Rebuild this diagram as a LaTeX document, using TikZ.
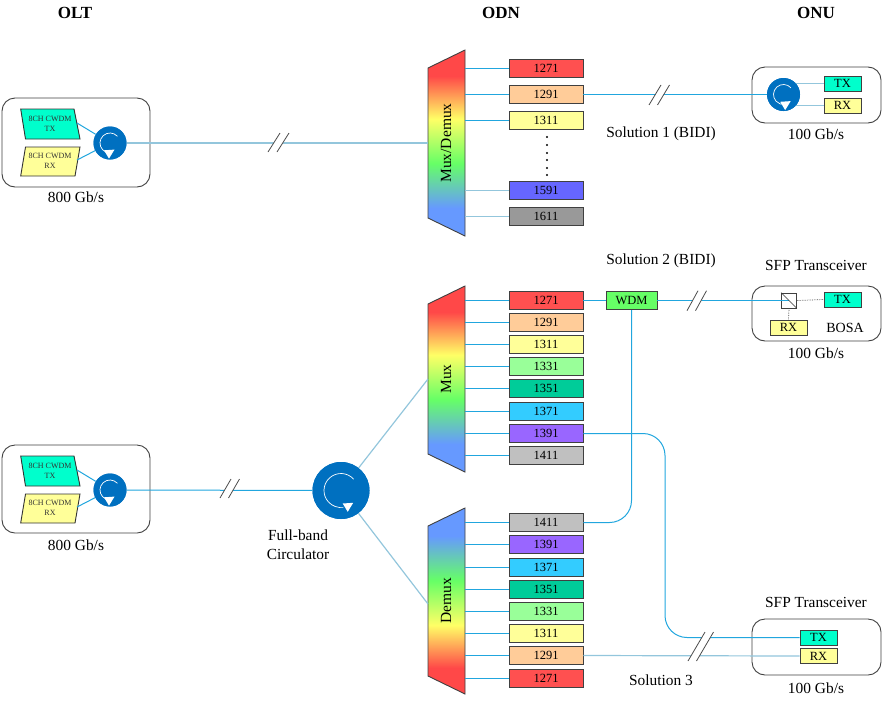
\documentclass[tikz,border=0pt]{standalone}
\usepackage{fontspec}
\setmainfont{Liberation Serif}
\definecolor{fibre}{HTML}{21A6DE}
\definecolor{palefibre}{HTML}{93C6DC}
\definecolor{circblue}{HTML}{0070C0}
\definecolor{edgegrey}{HTML}{404040}
\definecolor{cred}{HTML}{FF5050}
\definecolor{corange}{HTML}{FFCC99}
\definecolor{cyellow}{HTML}{FFFF99}
\definecolor{cgreen}{HTML}{99FF99}
\definecolor{cteal}{HTML}{00CC99}
\definecolor{ccyan}{HTML}{33CCFF}
\definecolor{cpurple}{HTML}{9966FF}
\definecolor{cgrey}{HTML}{C0C0C0}
\definecolor{cviolet}{HTML}{6666FF}
\definecolor{cdgrey}{HTML}{999999}
\definecolor{caqua}{HTML}{00FFCC}
\definecolor{cwdm}{HTML}{66FF66}
\definecolor{gtop}{HTML}{FF4848}
\definecolor{gyel}{HTML}{FFFF66}
\definecolor{ggrn}{HTML}{66FF66}
\definecolor{gblu}{HTML}{6699FF}
\pgfdeclareverticalshading{rainbowdown}{100bp}{color(0bp)=(gblu);color(25bp)=(gblu);color(32.5bp)=(gblu);color(44.5bp)=(ggrn);color(56.5bp)=(gyel);color(68bp)=(gtop);color(75bp)=(gtop);color(100bp)=(gtop)}
\pgfdeclareverticalshading{rainbowup}{100bp}{color(0bp)=(gtop);color(25bp)=(gtop);color(32bp)=(gtop);color(43.5bp)=(gyel);color(55.5bp)=(ggrn);color(67.5bp)=(gblu);color(75bp)=(gblu);color(100bp)=(gblu)}
\tikzset{
  every node/.style={font=\fontsize{15.4}{19}\selectfont,inner sep=0pt,text=black},
  wl/.style={draw=edgegrey,line width=0.9pt,minimum width=74pt,minimum height=18.5pt,font=\fontsize{12.5}{14}\selectfont},
  smallbox/.style={draw=edgegrey,line width=0.9pt,minimum width=37pt,minimum height=15pt,font=\fontsize{12.5}{14}\selectfont},
  chbox/.style={draw=black!80,line width=0.9pt},
  fibreline/.style={draw=fibre,line width=1pt},
  paleline/.style={draw=palefibre,line width=1.2pt},
  slash/.style={draw=black!70,line width=0.8pt,fill=white},
  encl/.style={draw=edgegrey,line width=0.9pt,rounded corners=13pt,fill=white},
  circ/.style={circle,fill=circblue,draw=none},
  ring/.style={draw=white,line width=0.7pt},
  lbl/.style={align=center},
  tiny/.style={font=\fontsize{8}{10}\selectfont,align=center,text=black!80},
  head/.style={font=\fontsize{17}{19}\selectfont\bfseries},
  muxtext/.style={rotate=90,font=\fontsize{15.5}{19}\selectfont},
}
\newcommand{\ringarrow}[5]{% centre x, y, radius, triangle offset x, y
  \draw[ring] (#1,#2) ++(42:#3pt) arc[start angle=42,end angle=278,radius=#3pt];
  \fill[white] (#1+#4,#2+#5) -- (#1+#4+10.5,#2+#5-0.7) -- (#1+#4+5,#2+#5+8.3) -- cycle;
}
\newcommand{\breakmark}[5]{% x bottom, x top, second-slash offset, y bottom, y top
  \path[fill=white] (#1,#4) -- (#2,#5) -- (#2+#3,#5) -- (#1+#3,#4) -- cycle;
  \draw[slash] (#1,#4) -- (#2,#5);
  \draw[slash] (#1+#3,#4) -- (#2+#3,#5);
}
\begin{document}
\begin{tikzpicture}[x=1pt,y=-1pt]
\useasboundingbox (0,0) rectangle (885,702);
% headings
\node[head] (holt) at (75,13) {OLT};
\node[head] (hodn) at (501,13) {ODN};
\node[head] (honu) at (816,13) {ONU};
% enclosures
\draw[encl] (2,98) rectangle (150,187);
\draw[encl] (2,445) rectangle (150,533);
\draw[encl] (752,67) rectangle (881,123);
\draw[encl] (752,286) rectangle (881,341);
\draw[encl] (752,619) rectangle (881,675);
% demux bodies
\shade[shading=rainbowdown,draw=edgegrey,line width=0.9pt] (428,68) -- (465,50) -- (465,236) -- (428,218) -- cycle;
\shade[shading=rainbowdown,draw=edgegrey,line width=0.9pt] (428,304) -- (465,286) -- (465,472) -- (428,454) -- cycle;
\shade[shading=rainbowup,draw=edgegrey,line width=0.9pt] (428,526) -- (465,508) -- (465,694) -- (428,676) -- cycle;
\node[muxtext] (mdm) at (446,143) {Mux/Demux};
\node[muxtext] (mx) at (446,379) {Mux};
\node[muxtext] (dmx) at (446,601) {Demux};
\coordinate (rightA) at (465,0);
% group 1 wavelengths
\node[wl,fill=cred] (a1) at (546,68.5) {1271};
\node[wl,fill=corange] (a2) at (546,94.5) {1291};
\node[wl,fill=cyellow] (a3) at (546,120.5) {1311};
\node[wl,fill=cviolet] (a4) at (546,190.5) {1591};
\node[wl,fill=cdgrey] (a5) at (546,216.5) {1611};
% group 2
\node[wl,fill=cred] (b1) at (546,300.5) {1271};
\node[wl,fill=corange] (b2) at (546,322.5) {1291};
\node[wl,fill=cyellow] (b3) at (546,344.5) {1311};
\node[wl,fill=cgreen] (b4) at (546,366.5) {1331};
\node[wl,fill=cteal] (b5) at (546,388.5) {1351};
\node[wl,fill=ccyan] (b6) at (546,411.5) {1371};
\node[wl,fill=cpurple] (b7) at (546,433.5) {1391};
\node[wl,fill=cgrey] (b8) at (546,455.5) {1411};
% group 3
\node[wl,fill=cgrey] (c1) at (546,522.5) {1411};
\node[wl,fill=cpurple] (c2) at (546,544.5) {1391};
\node[wl,fill=ccyan] (c3) at (546,567.5) {1371};
\node[wl,fill=cteal] (c4) at (546,589.5) {1351};
\node[wl,fill=cgreen] (c5) at (546,611.5) {1331};
\node[wl,fill=cyellow] (c6) at (546,633.5) {1311};
\node[wl,fill=corange] (c7) at (546,655.5) {1291};
\node[wl,fill=cred] (c8) at (546,678.5) {1271};
% lines to the (de)mux
\foreach \n in {a1,a2,a3}{\draw[fibreline] (\n.west) -- (\n.west -| rightA);}
\foreach \n in {a4,a5}{\draw[paleline] (\n.west) -- (\n.west -| rightA);}
\foreach \n in {b1,b2,b3,b4,b5,b6,b7,b8,c1,c2,c3,c4,c5,c6,c7,c8}{\draw[fibreline] (\n.west) -- (\n.west -| rightA);}
% dots
\foreach \y in {137,145,153,160,168,175}{\fill (547,\y) circle (1.1pt);}
% OLT transmitters
\foreach \dy/\tx/\rx in {0/t1/r1,347/t2/r2}{
  \draw[chbox,fill=caqua] (20.7,109+\dy) -- (74,109+\dy) -- (80,139+\dy) -- (25.5,139+\dy) -- cycle;
  \draw[chbox,fill=cyellow] (25.5,147+\dy) -- (80,147+\dy) -- (75,176+\dy) -- (20.7,176+\dy) -- cycle;
  \node[tiny] (\tx) at (50,124+\dy) {8CH CWDM\\TX};
  \node[tiny] (\rx) at (50,161+\dy) {8CH CWDM\\RX};
}
\node[circ,minimum size=33pt] (oc1) at (110,143) {};
\node[circ,minimum size=33pt] (oc2) at (110,490) {};
\draw[fibreline] (77,123) -- (oc1);
\draw[fibreline] (77,160) -- (oc1);
\draw[fibreline] (77,470) -- (oc2);
\draw[fibreline] (77,507) -- (oc2);
\node[circ,minimum size=33pt] (oc1) at (110,143) {};
\node[circ,minimum size=33pt] (oc2) at (110,490) {};
\ringarrow{110}{143}{10}{-6}{7.3}
\ringarrow{110}{490}{10}{-6}{7.3}
% OLT to ODN
\coordinate (mdmleft) at (428,143);
\draw[paleline] (oc1) -- (mdmleft);
% full-band circulator
\node[circ,minimum size=57pt] (fb) at (341,490.5) {};
\draw[fibreline] (oc2) -- (fb);
\coordinate (mxleft) at (428,379);
\coordinate (dmxleft) at (428,604);
\draw[paleline] (fb) -- (mxleft);
\draw[paleline] (fb) -- (dmxleft);
\node[circ,minimum size=57pt] (fb2) at (341,490.5) {};
\ringarrow{341}{490.5}{17}{1.7}{13}
\node[lbl] (fbl) at (298,545) {Full-band\\Circulator};
% ONU 1
\node[smallbox,fill=caqua] (tx1) at (842.5,83.5) {TX};
\node[smallbox,fill=cyellow] (rx1) at (842.5,105.5) {RX};
\node[circ,minimum size=33pt] (uc1) at (783.5,94.5) {};
\draw[paleline] (tx1.west) -- (tx1.west -| uc1);
\draw[paleline] (rx1.west) -- (rx1.west -| uc1);
\draw[fibreline] (a2.east) -- (a2.east -| uc1);
\node[circ,minimum size=33pt] (uc1b) at (783.5,94.5) {};
\ringarrow{783.5}{94.5}{10}{-3.3}{7.3}
% ONU 2
\node[wl,minimum width=51pt,minimum height=18.5pt,fill=cwdm] (wdm) at (631.5,300.5) {WDM};
\node[smallbox,fill=caqua] (tx2) at (842.5,299.5) {TX};
\node[smallbox,fill=cyellow] (rx2) at (788.5,327.5) {RX};
\node[draw=edgegrey,line width=0.7pt,minimum size=15pt] (sp) at (789,300.5) {};
\draw[fibreline] (b1.east) -- (wdm.west);
\draw[fibreline] (wdm.east) -- (sp.center);
\draw[draw=black!80,line width=0.6pt] (sp.north west) -- (sp.south east);
\draw[densely dotted,draw=black!70,line width=0.7pt] (sp.east) -- (tx2.west);
\draw[densely dotted,draw=black!70,line width=0.7pt] (sp.south) -- (rx2.north);
\node[font=\fontsize{14}{17}\selectfont] (bosa) at (845,327.5) {BOSA};
\draw[fibreline,rounded corners=22pt] (wdm.south) |- (c1.east);
% ONU 3
\node[smallbox,fill=caqua] (tx3) at (818.5,637.5) {TX};
\node[smallbox,fill=cyellow] (rx3) at (818.5,656) {RX};
\coordinate (bendx) at (665,0);
\draw[fibreline,rounded corners=22pt] (b7.east) -- (b7.east -| bendx) -- (tx3.west -| bendx) -- (tx3.west);
\draw[paleline] (c7.east) -- (rx3.west);
% break marks
\breakmark{268}{280}{9}{152}{133}
\breakmark{220}{231}{8.5}{498}{479}
\breakmark{649}{661}{8.5}{105}{85}
\breakmark{687}{698}{8.5}{310.7}{290.7}
\breakmark{688}{705}{8.5}{661}{632}
% labels
\node (c1l) at (76,197) {800 Gb/s};
\node (c2l) at (76,545) {800 Gb/s};
\node (c3l) at (816,134) {100 Gb/s};
\node (c4l) at (816,353) {100 Gb/s};
\node (c5l) at (816,688) {100 Gb/s};
\node (s1) at (661,134) {Solution 1 (BIDI)};
\node (s2) at (661,261) {Solution 2 (BIDI)};
\node (s3) at (661,680) {Solution 3};
\node (sfp1) at (816,265) {SFP Transceiver};
\node (sfp2) at (816,602) {SFP Transceiver};
\end{tikzpicture}
\end{document}
